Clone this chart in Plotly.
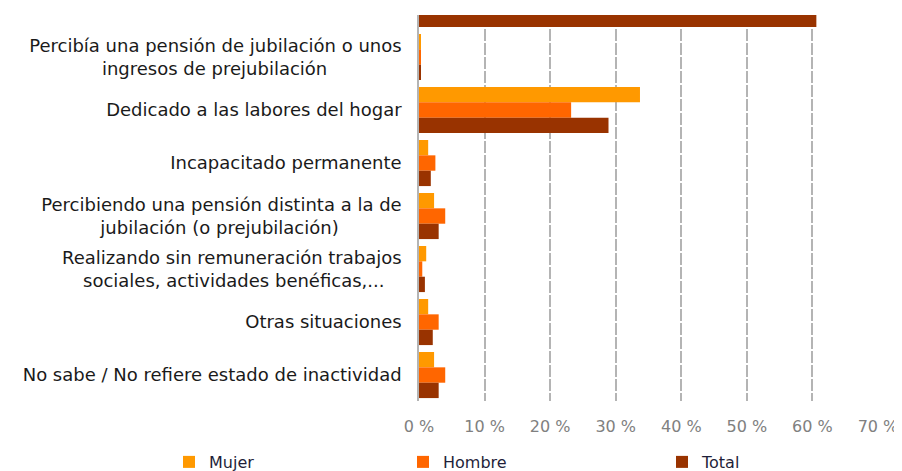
import plotly.graph_objects as go

NB = "\u00a0"
categories = [
    "Jubilado",
    "Percibía una pensión de jubilación o unos<br>ingresos de prejubilación" + NB * 13,
    "Dedicado a las labores del hogar",
    "Incapacitado permanente",
    "Percibiendo una pensión distinta a la de<br>jubilación (o prejubilación)" + NB * 11,
    "Realizando sin remuneración trabajos<br>sociales, actividades benéficas,..." + NB * 3,
    "Otras situaciones",
    "No sabe / No refiere estado de inactividad",
]
mujer = [None, 0.3, 33.7, 1.4, 2.3, 1.1, 1.4, 2.3]
hombre = [None, 0.3, 23.2, 2.5, 4.0, 0.5, 3.0, 4.0]
total = [60.6, 0.2, 28.9, 1.8, 3.0, 0.9, 2.1, 3.0]

x_ticks = [0, 10, 20, 30, 40, 50, 60, 70]
x_tick_labels = ["0 %", "10 %", "20 %", "30 %", "40 %", "50 %", "60 %", "70 %"]

series = [
    ("Mujer", mujer, "#FF9900", "legend"),
    ("Hombre", hombre, "#FF6600", "legend2"),
    ("Total", total, "#993300", "legend3"),
]

fig = go.Figure()
for name, vals, color, lg in series:
    fig.add_trace(go.Bar(
        y=categories, x=vals, name=name, orientation="h",
        marker=dict(color=color, line=dict(width=0)),
        legend=lg, showlegend=True,
    ))

font_family = "DejaVu Sans"
# the page body has an 8px margin, so the figure is drawn 8px right/down
PLOT_L, PLOT_W = 419, 459
leg_common = dict(orientation="h", yanchor="middle", y=-0.158, xanchor="left",
                  font=dict(family=font_family, size=16, color="#1f1f3a"),
                  bgcolor="rgba(0,0,0,0)", borderwidth=0)

fig.update_layout(
    width=894, height=463,
    margin=dict(l=411, r=24, t=7, b=70, autoexpand=False),
    barmode="group", bargap=0.13, bargroupgap=0,
    plot_bgcolor="white", paper_bgcolor="white",
    showlegend=True,
    font=dict(family=font_family, size=16, color="#1a1a1a"),
    xaxis=dict(
        range=[0, 70], tickvals=x_ticks, ticktext=x_tick_labels,
        showgrid=True, gridcolor="#b4b4b4", gridwidth=1.5, griddash="12px,2px",
        zeroline=False, showline=False, automargin=False,
        tickfont=dict(family=font_family, size=16, color="#808080"),
        ticks="", ticklabelstandoff=14,
    ),
    yaxis=dict(
        categoryorder="array", categoryarray=categories,
        range=[7.49, 0.207], automargin=False,
        showgrid=False, zeroline=False,
        showline=True, linecolor="#b4b4b4", linewidth=1.5,
        ticks="", ticklabelstandoff=12,
        tickfont=dict(family=font_family, size=18, color="#1a1a1a"),
    ),
    legend=dict(x=(169 - PLOT_L) / PLOT_W, **leg_common),
    legend2=dict(x=(403 - PLOT_L) / PLOT_W, **leg_common),
    legend3=dict(x=(662 - PLOT_L) / PLOT_W, **leg_common),
)

fig.write_html("out.html")
